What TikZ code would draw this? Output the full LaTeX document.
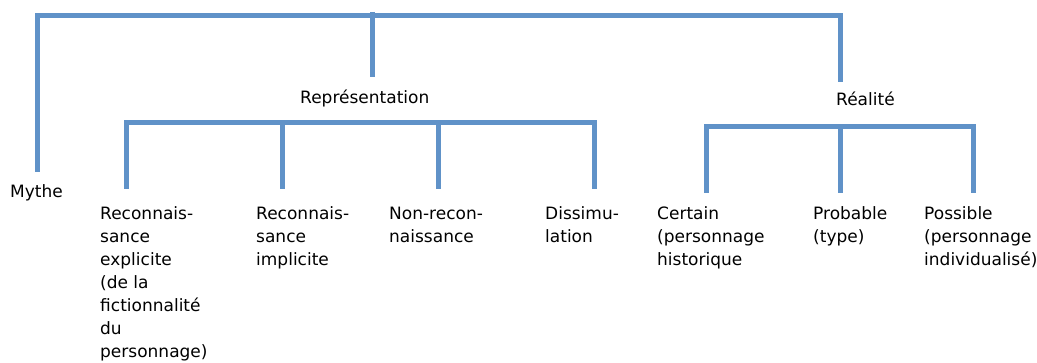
\documentclass[tikz,border=0pt]{standalone}
\usepackage{fontspec}
\setmainfont{DejaVu Sans}
\definecolor{barblue}{RGB}{96,146,200}
\definecolor{shadowgray}{RGB}{200,200,200}
\newcommand{\fl}{\rule{0pt}{13.6pt}}
\begin{document}
\begin{tikzpicture}[x=1pt,y=-1pt,
  bar/.style={draw=barblue,line width=5pt,line cap=butt,line join=miter},
  shade/.style={draw=shadowgray,line width=5pt,line cap=butt,line join=miter,opacity=0.5},
  lbl/.style={anchor=north west,align=left,inner sep=0pt,font=\fontsize{17}{23}\selectfont,text=black}]
\useasboundingbox (0,0) rectangle (1037,363);
% junction coordinates
\coordinate (tl) at (37,16);
\coordinate (tr) at (840,16);
\coordinate (tm) at (372,16);
\coordinate (tmtop) at (372,12);
\coordinate (mytheend) at (37,172);
\coordinate (repend) at (372,77);
\coordinate (realend) at (840,82);
\coordinate (r1) at (126,123);
\coordinate (r4) at (594,123);
\coordinate (r2) at (282,123);
\coordinate (r3) at (438,123);
\coordinate (r1e) at (126,189);
\coordinate (r2e) at (282,189);
\coordinate (r3e) at (438,189);
\coordinate (r4e) at (594,189);
\coordinate (s1) at (706,127);
\coordinate (s2) at (840,127);
\coordinate (s3) at (973,127);
\coordinate (s1e) at (706,193);
\coordinate (s2e) at (840,193);
\coordinate (s3e) at (973,193);
% labels
\node[lbl] (mythe) at (10,183.4) {\fl Mythe};
\node[lbl] (rep) at (300,89.4) {\fl Représentation};
\node[lbl] (real) at (836,91.4) {\fl Réalité};
\node[lbl] (a) at (100,205.4) {\fl Reconnais-\\sance\\explicite\\(de la\\fictionnalité\\du\\personnage)};
\node[lbl] (b) at (256,205.4) {\fl Reconnais-\\sance\\implicite};
\node[lbl] (c) at (389,205.4) {\fl Non-recon-\\naissance};
\node[lbl] (d) at (545,205.4) {\fl Dissimu-\\lation};
\node[lbl] (e) at (657,205.4) {\fl Certain\\(personnage\\historique};
\node[lbl] (f) at (813,205.4) {\fl Probable\\(type)};
\node[lbl] (g) at (924,205.4) {\fl Possible\\(personnage\\individualisé)};
% shadows
\begin{scope}[shift={(1.5,2)}]
\draw[shade] (mytheend) -- (tl) -- (tr) -- (realend);
\draw[shade] (tm) -- (repend);
\draw[shade] (r1e) -- (r1) -- (r4) -- (r4e);
\draw[shade] (r2) -- (r2e);
\draw[shade] (r3) -- (r3e);
\draw[shade] (s1e) -- (s1) -- (s3) -- (s3e);
\draw[shade] (s2) -- (s2e);
\end{scope}
% connectors
\draw[bar] (mytheend) -- (tl) -- (tr) -- (realend);
\draw[bar] (tmtop) -- (repend);
\draw[bar] (r1e) -- (r1) -- (r4) -- (r4e);
\draw[bar] (r2) -- (r2e);
\draw[bar] (r3) -- (r3e);
\draw[bar] (s1e) -- (s1) -- (s3) -- (s3e);
\draw[bar] (s2) -- (s2e);
\end{tikzpicture}
\end{document}
